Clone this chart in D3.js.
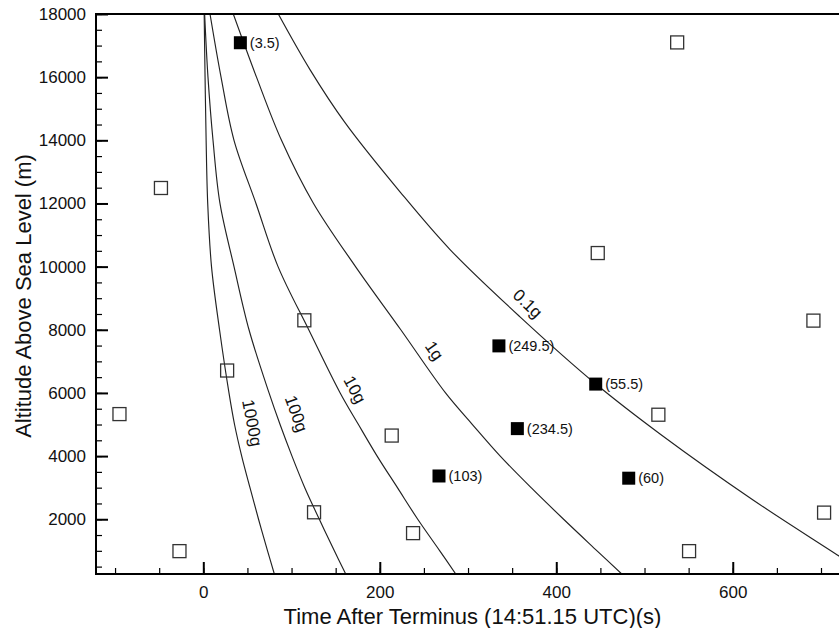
<!DOCTYPE html>
<html>
<head>
<meta charset="utf-8">
<script src="https://cdn.jsdelivr.net/npm/d3@7"></script>
<style>
  html, body { margin: 0; padding: 0; background: #fff; }
  svg { display: block; font-family: "Liberation Sans", Arial, Helvetica, sans-serif; }
</style>
</head>
<body>
<svg id="chart" width="839" height="628"></svg>
<script>
// Fall-time curves: time after terminus (s) at which a fragment of a given mass reaches each altitude
const massLabels = ["1000g", "100g", "10g", "1g", "0.1g"];
const curveAlt = [18000, 16000, 14000, 12000, 10000, 8000, 6000, 5000, 4000, 3000, 2000, 1000, 266];
const t1000g = [1, 2, 3.2, 5, 9.3, 18.4, 29.1, 35.4, 43.5, 52.9, 62.6, 72.8, 80.5];
const t100g  = [1.5, 5.3, 11, 18.9, 34.8, 51.8, 74.5, 87, 100.5, 115, 131.5, 148.5, 161.4];
const t10g   = [7.6, 20.1, 34.8, 59.7, 84.7, 119.5, 155.1, 175.8, 197, 220, 243, 268, 286.1];
const t1g    = [34, 60.3, 88.6, 124.9, 172.5, 223.8, 274.5, 305, 336.5, 371.5, 408.3, 446.2, 474.2];
const alt01g = [18000, 16240, 14560, 12370, 10540, 8410, 6290, 4700, 2610, 870, 110];
const t01g   = [85, 120.9, 160.6, 222.9, 279.6, 358.9, 444.5, 517.6, 623, 718.5, 760];

// Where each curve is labelled (time, altitude) and the text slope in degrees
const curveLabelT = [55.2, 105.1, 171.4, 261.5, 367.5];
const curveLabelAlt = [5050, 5340, 6100, 7330, 8820];
const curveLabelAngle = [79, 70, 62, 55, 44];

// Recovered fragments (filled) with their masses in grams
const filledT = [42, 335, 444.7, 355.9, 267.1, 482.1];
const filledAlt = [17090, 7490, 6280, 4870, 3370, 3300];
const filledText = ["(3.5)", "(249.5)", "(55.5)", "(234.5)", "(103)", "(60)"];

// Other detections (open squares)
const openT = [-95, -48, -27, 27, 114.5, 125.5, 213.5, 237.7, 447, 515.7, 691.4, 537, 550.5, 703.5];
const openAlt = [5330, 12490, 990, 6710, 8300, 2220, 4650, 1560, 10430, 5310, 8290, 17100, 990, 2210];

// Axis ticks
const xTicksMajor = [0, 200, 400, 600];
const xTicksMinor = d3.range(-100, 701, 50);
const yTicksMajor = [2000, 4000, 6000, 8000, 10000, 12000, 14000, 16000, 18000];
const yTicksMinor = d3.range(500, 18001, 500);

const xTitle = "Time After Terminus (14:51.15 UTC)(s)";
const yTitle = "Altitude Above Sea Level (m)";

// ---- layout ----
const W = 839, H = 628;
const plotL = 96, plotT = 14, plotR = 839, plotB = 574;

const svg = d3.select("#chart");
svg.append("rect").attr("width", W).attr("height", H).attr("fill", "#fff");

const x = d3.scaleLinear().domain([-121.6, 720.4]).range([plotL, plotR]);
const y = d3.scaleLinear().domain([266, 18000]).range([plotB, plotT]);

svg.append("clipPath").attr("id", "plotClip")
  .append("rect").attr("x", plotL).attr("y", plotT)
  .attr("width", plotR - plotL).attr("height", plotB - plotT);

// ---- curves ----
const curves = [
  curveAlt.map((a, i) => [t1000g[i], a]),
  curveAlt.map((a, i) => [t100g[i], a]),
  curveAlt.map((a, i) => [t10g[i], a]),
  curveAlt.map((a, i) => [t1g[i], a]),
  alt01g.map((a, i) => [t01g[i], a])
];

const line = d3.line()
  .x(d => x(d[0]))
  .y(d => y(d[1]))
  .curve(d3.curveCatmullRom.alpha(0.5));

const curveG = svg.append("g").attr("clip-path", "url(#plotClip)");
curveG.selectAll("path.fall")
  .data(curves)
  .join("path")
  .attr("class", "fall")
  .attr("d", line)
  .attr("fill", "none")
  .attr("stroke", "#222")
  .attr("stroke-width", 1.15);

svg.append("g").selectAll("text.curve-label")
  .data(massLabels)
  .join("text")
  .attr("class", "curve-label")
  .attr("transform", (d, i) => `translate(${x(curveLabelT[i])},${y(curveLabelAlt[i])}) rotate(${curveLabelAngle[i]})`)
  .attr("text-anchor", "middle")
  .attr("dominant-baseline", "central")
  .attr("font-size", 17)
  .attr("fill", "#111")
  .text(d => d);

// ---- axes ----
function styleAxis(g, width) {
  g.select(".domain").remove();
  g.selectAll(".tick line").attr("stroke", "#000").attr("stroke-width", width);
  g.selectAll(".tick text").attr("fill", "#111").attr("font-size", 17)
    .attr("font-family", "Liberation Sans, Arial, Helvetica, sans-serif");
}

svg.append("g").attr("transform", `translate(0,${plotB})`)
  .call(d3.axisBottom(x).tickValues(xTicksMinor).tickSize(-6).tickSizeOuter(0).tickFormat(""))
  .call(g => styleAxis(g, 1.2));
svg.append("g").attr("transform", `translate(0,${plotB})`)
  .call(d3.axisBottom(x).tickValues(xTicksMajor).tickSize(-12).tickSizeOuter(0).tickPadding(12).tickFormat(d3.format("d")))
  .call(g => styleAxis(g, 2));

svg.append("g").attr("transform", `translate(${plotL},0)`)
  .call(d3.axisLeft(y).tickValues(yTicksMinor).tickSize(-6).tickSizeOuter(0).tickFormat(""))
  .call(g => styleAxis(g, 1.2));
svg.append("g").attr("transform", `translate(${plotL},0)`)
  .call(d3.axisLeft(y).tickValues(yTicksMajor).tickSize(-12).tickSizeOuter(0).tickPadding(10).tickFormat(d3.format("d")))
  .call(g => styleAxis(g, 2));

// frame lines: left, bottom and top
const frame = svg.append("g").attr("stroke", "#000").attr("stroke-width", 2).attr("fill", "none");
frame.append("line").attr("x1", plotL).attr("x2", plotL).attr("y1", plotT - 1).attr("y2", plotB + 1);
frame.append("line").attr("x1", plotL - 1).attr("x2", plotR).attr("y1", plotB).attr("y2", plotB);
frame.append("line").attr("x1", plotL - 1).attr("x2", plotR).attr("y1", plotT).attr("y2", plotT);

// ---- markers ----
const S = 13;
svg.append("g").selectAll("rect.open")
  .data(openT.map((t, i) => [t, openAlt[i]]))
  .join("rect")
  .attr("class", "open")
  .attr("x", d => x(d[0]) - S / 2)
  .attr("y", d => y(d[1]) - S / 2)
  .attr("width", S).attr("height", S)
  .attr("fill", "none")
  .attr("stroke", "#333")
  .attr("stroke-width", 1.3);

const filled = svg.append("g").selectAll("g.filled")
  .data(filledT.map((t, i) => ({ t, a: filledAlt[i], label: filledText[i] })))
  .join("g")
  .attr("class", "filled")
  .attr("transform", d => `translate(${x(d.t)},${y(d.a)})`);
filled.append("rect")
  .attr("x", -S / 2).attr("y", -S / 2)
  .attr("width", S).attr("height", S)
  .attr("fill", "#000");
filled.append("text")
  .attr("x", 9.5)
  .attr("dominant-baseline", "central")
  .attr("font-size", 14.5)
  .attr("fill", "#111")
  .text(d => d.label);

// ---- titles ----
svg.append("text")
  .attr("x", 472.5).attr("y", 624)
  .attr("text-anchor", "middle")
  .attr("font-size", 22)
  .attr("fill", "#111")
  .text(xTitle);

svg.append("text")
  .attr("transform", "translate(23,296) rotate(-90)")
  .attr("text-anchor", "middle")
  .attr("dominant-baseline", "central")
  .attr("font-size", 22)
  .attr("fill", "#111")
  .text(yTitle);
</script>
</body>
</html>
